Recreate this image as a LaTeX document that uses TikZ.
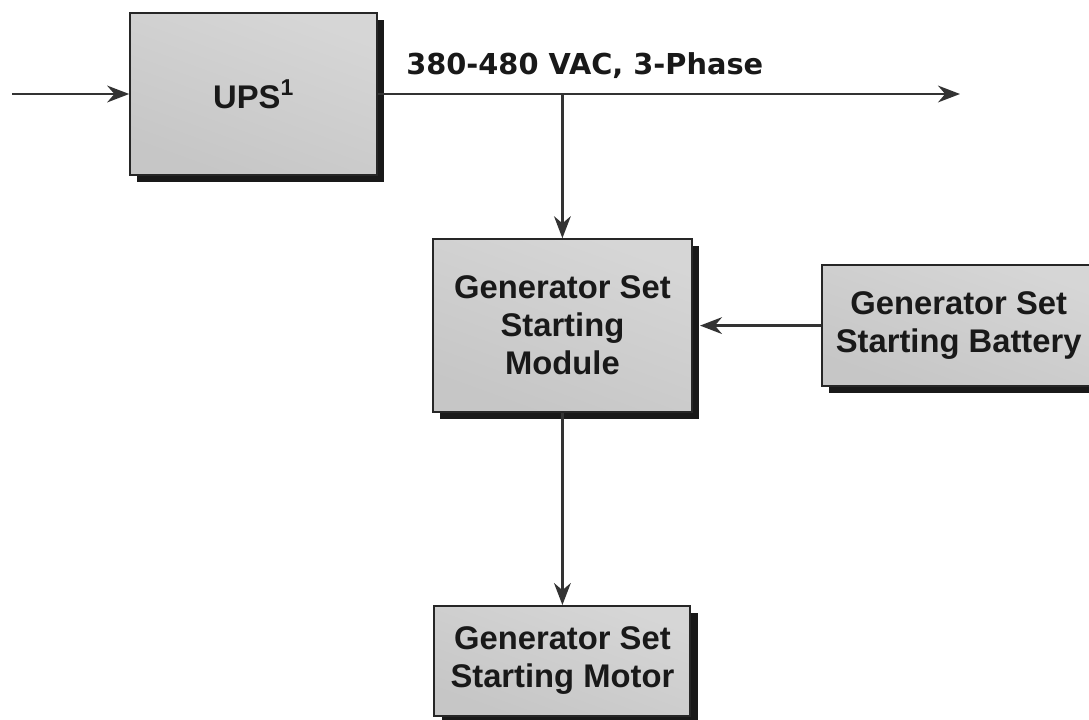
\documentclass[tikz,border=0pt]{standalone}
\usepackage{fontspec}
\setmainfont{Liberation Sans}
\newfontfamily\voltfont{DejaVu Sans}
\usepackage{tikz}
\usetikzlibrary{arrows.meta, positioning, shadows}
\tikzset{
    unit/.style={rectangle, draw=black!85, line width=1.3pt, text centered, align=center,
        top color=gray!32, middle color=gray!3, bottom color=gray!45, shading angle=-20,
        drop shadow={shadow xshift=0.18cm, shadow yshift=-0.18cm, fill=black!90, opacity=1},
        font=\fontsize{23.3}{27}\selectfont\bfseries, text=black!90},
    volts/.style={font=\voltfont\bfseries\fontsize{20.5}{23}\selectfont, text=black!90, inner sep=0pt},
    arrow/.style={-{Stealth[length=0.55cm, width=0.42cm]}, line width=1.6pt, draw=black!80},
}

\begin{document}
\begin{tikzpicture}
    \useasboundingbox (0,0) rectangle (27.225,-17.975);

    % Blocks
    \node[unit, minimum width=6.175cm, minimum height=4.05cm] (ups) at (6.34,-2.35) {UPS\textsuperscript{1}};
    \node[unit, minimum width=6.475cm, minimum height=4.325cm] (module) at (14.06,-8.14) {Generator Set\\Starting\\Module};
    \node[unit, minimum width=6.85cm, minimum height=3.025cm, right=3.2cm of module] (battery) {Generator Set\\Starting Battery};
    \node[unit, minimum width=6.4cm, minimum height=2.75cm, below=4.8cm of module] (motor) {Generator Set\\Starting Motor};

    % Bus
    \coordinate (feed) at (0.3,-2.35);
    \coordinate (busend) at (24.0,-2.35);
    \coordinate (tap) at (module.north |- ups.east);
    \node[volts, anchor=base west, xshift=0.7cm, yshift=0.5cm] (volt) at (ups.east) {380-480 VAC, 3-Phase};

    % Arrows
    \draw[arrow] (feed) -- (ups.west);
    \draw[arrow] (ups.east) -- (busend);
    \draw[arrow] (tap) -- (module.north);
    \draw[arrow] (battery.west) -- ([xshift=0.18cm]module.east);
    \draw[arrow] (module.south) -- (motor.north);
\end{tikzpicture}
\end{document}
